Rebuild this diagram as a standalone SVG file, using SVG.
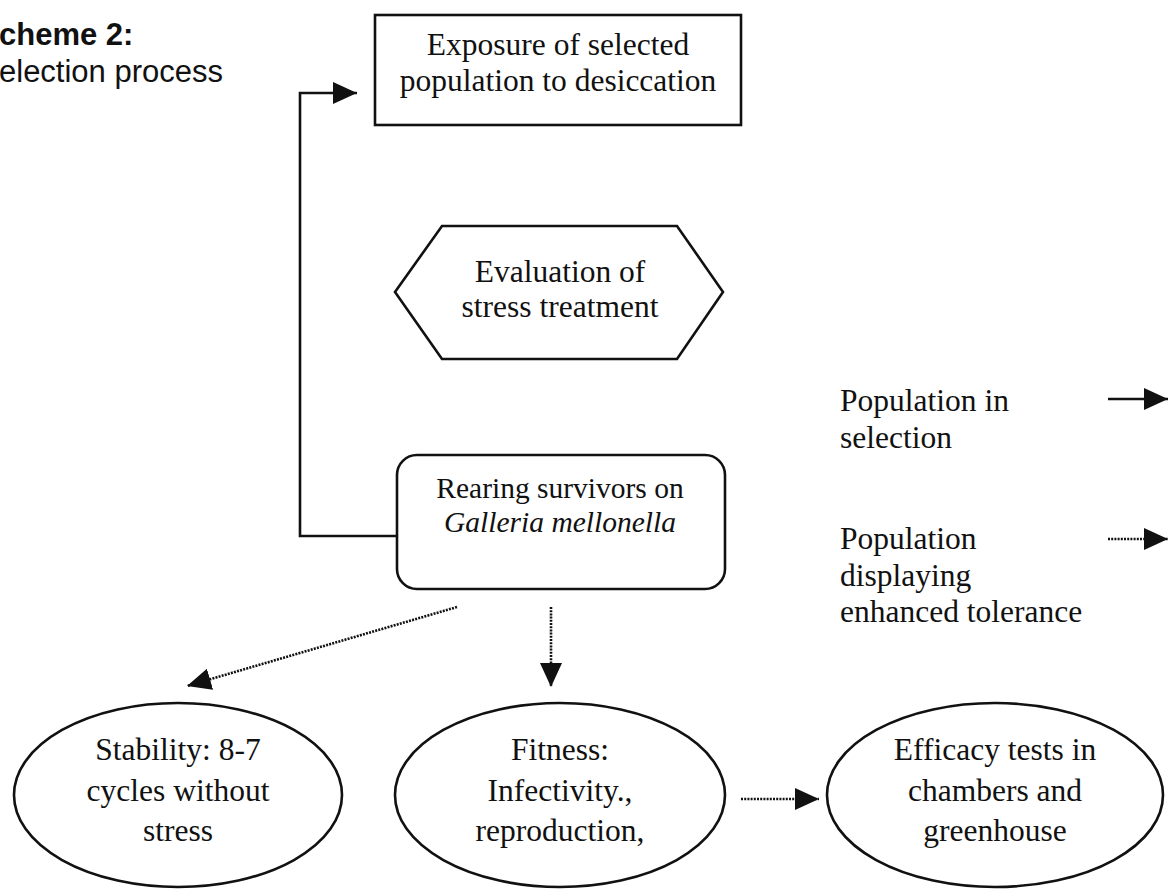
<svg xmlns="http://www.w3.org/2000/svg" width="1175" height="889" viewBox="0 0 1175 889">
<style>
.shape{fill:none;stroke:#111;stroke-width:2.6}
.t{font-family:"Liberation Serif","Times New Roman",serif;font-size:31.5px;fill:#111}
.t.s{font-size:29.5px}
.c{text-anchor:middle}
.h{font-family:"Liberation Sans",Arial,sans-serif;font-size:31px;fill:#111}
.solid{fill:none;stroke:#111;stroke-width:2.6}
.dot{fill:none;stroke:#111;stroke-width:2.6;stroke-dasharray:2 1.2}
</style>
<defs>
<marker id="ah" viewBox="0 0 24 22" refX="24" refY="11" markerWidth="24" markerHeight="22" markerUnits="userSpaceOnUse" orient="auto">
<path d="M0,0 L24,11 L0,22 z" fill="#111"/>
</marker>
</defs>
<rect width="1175" height="889" fill="#fff"/>
<g id="title">
<text class="h" x="-1" y="45" font-weight="bold">cheme 2:</text>
<text class="h" x="-1" y="82">election process</text>
</g>
<g id="connectors">
<polyline class="solid" points="398,536 300,536 300,93 357,93" marker-end="url(#ah)"/>
<line class="dot" x1="457" y1="607" x2="187" y2="686" marker-end="url(#ah)"/>
<line class="dot" x1="551" y1="607" x2="551" y2="687" marker-end="url(#ah)"/>
<line class="dot" x1="741" y1="799" x2="819" y2="799" marker-end="url(#ah)"/>
</g>
<g id="node-exposure">
<rect class="shape" x="375" y="15" width="366" height="110"/>
<text class="t c" x="558" y="55">Exposure of selected</text>
<text class="t c" x="558" y="91">population to desiccation</text>
</g>
<g id="node-evaluation">
<polygon class="shape" points="395,292 442,226 677,226 723,292 677,359 442,359"/>
<text class="t c" x="560" y="282">Evaluation of</text>
<text class="t c" x="560" y="317">stress treatment</text>
</g>
<g id="node-rearing">
<rect class="shape" x="397" y="455" width="328" height="134" rx="20" ry="20"/>
<text class="t s c" x="560" y="498">Rearing survivors on</text>
<text class="t s c" x="560" y="532" font-style="italic">Galleria mellonella</text>
</g>
<g id="node-stability">
<ellipse class="shape" cx="178" cy="795" rx="164" ry="92"/>
<text class="t c" x="178" y="760">Stability: 8-7</text>
<text class="t c" x="178" y="801">cycles without</text>
<text class="t c" x="178" y="841">stress</text>
</g>
<g id="node-fitness">
<ellipse class="shape" cx="560" cy="795" rx="165" ry="92"/>
<text class="t c" x="560" y="760">Fitness:</text>
<text class="t c" x="560" y="801">Infectivity.,</text>
<text class="t c" x="560" y="841">reproduction,</text>
</g>
<g id="node-efficacy">
<ellipse class="shape" cx="995" cy="795" rx="168" ry="92"/>
<text class="t c" x="995" y="760">Efficacy tests in</text>
<text class="t c" x="995" y="801">chambers and</text>
<text class="t c" x="995" y="841">greenhouse</text>
</g>
<g id="legend">
<text class="t" x="840" y="411">Population in</text>
<text class="t" x="840" y="448">selection</text>
<line class="solid" x1="1108" y1="399" x2="1168" y2="399" marker-end="url(#ah)"/>
<text class="t" x="840" y="549">Population</text>
<text class="t" x="840" y="586">displaying</text>
<text class="t" x="840" y="622">enhanced tolerance</text>
<line class="dot" x1="1108" y1="539" x2="1168" y2="539" marker-end="url(#ah)"/>
</g>
</svg>
